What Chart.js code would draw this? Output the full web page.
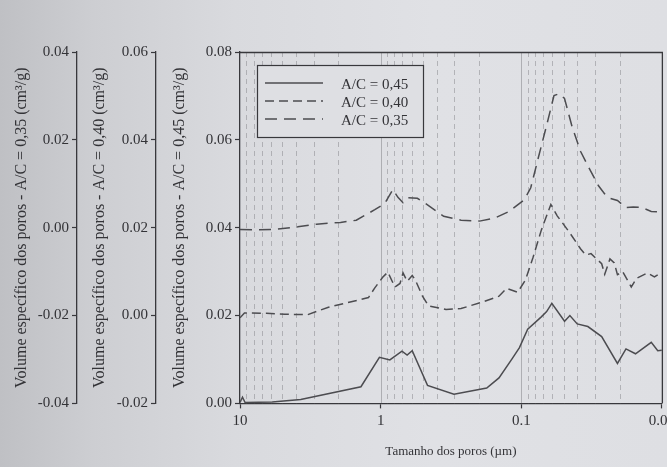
<!DOCTYPE html>
<html><head><meta charset="utf-8">
<script src="https://cdn.jsdelivr.net/npm/chart.js@4/dist/chart.umd.min.js"></script>
<style>
html,body{margin:0;padding:0;width:667px;height:467px;overflow:hidden;}
body{background:linear-gradient(90deg,#bfc0c4 0%,#cdced2 14%,#d9dade 35%,#e0e1e5 65%,#dedfe3 100%);}
#wrap{position:absolute;left:0;top:0;width:679px;height:467px;}
</style></head><body>
<div id="wrap"><canvas id="c"></canvas></div>
<script>
// ---- data ----
const seriesLabels = ['A/C = 0,45', 'A/C = 0,40', 'A/C = 0,35'];
const yTitle045 = 'Volume específico dos poros - A/C = 0,45 (cm³/g)';
const yTitle040 = 'Volume específico dos poros - A/C = 0,40 (cm³/g)';
const yTitle035 = 'Volume específico dos poros - A/C = 0,35 (cm³/g)';
const xTitle = 'Tamanho dos poros (µm)';

const xTickValues = [10, 1, 0.1, 0.01];
const xTickLabels = ['10', '1', '0.1', '0.01'];
const yTicks045 = [0.00, 0.02, 0.04, 0.06, 0.08];
const yTicks040 = [-0.02, 0.00, 0.02, 0.04, 0.06];
const yTicks035 = [-0.04, -0.02, 0.00, 0.02, 0.04];

// A/C = 0,45 (solid)
const size045 = [10, 9.6, 9.2, 5.9, 3.7, 1.38, 1.02, 0.86, 0.705, 0.648, 0.596, 0.464, 0.301, 0.176, 0.144, 0.116, 0.103, 0.090, 0.072, 0.066, 0.0606, 0.0492, 0.0451, 0.0400, 0.0336, 0.0268, 0.0207, 0.0180, 0.0154, 0.0119, 0.0107, 0.0100];
const vol045 = [0.0002, 0.0014, 0.0002, 0.0003, 0.0009, 0.0038, 0.0105, 0.0099, 0.0119, 0.0110, 0.0120, 0.0041, 0.0021, 0.0035, 0.0058, 0.0102, 0.0127, 0.0169, 0.0197, 0.0209, 0.0228, 0.0187, 0.0200, 0.0181, 0.0175, 0.0152, 0.0091, 0.0124, 0.0113, 0.0139, 0.0120, 0.0121];

// A/C = 0,40 (own axis)
const size040 = [10, 9.3, 6.5, 4.8, 3.3, 2.35, 1.73, 1.22, 1.10, 0.967, 0.889, 0.792, 0.728, 0.693, 0.648, 0.596, 0.567, 0.505, 0.456, 0.343, 0.268, 0.192, 0.144, 0.127, 0.106, 0.0933, 0.0827, 0.0719, 0.0616, 0.0555, 0.0451, 0.0379, 0.0348, 0.0319, 0.0268, 0.0255, 0.0234, 0.0218, 0.0207, 0.0190, 0.0165, 0.0151, 0.0127, 0.0113, 0.0100];
const vol040 = [-0.0005, 0.0006, 0.0005, 0.0003, 0.0002, 0.0019, 0.0029, 0.0041, 0.0063, 0.0087, 0.0099, 0.0065, 0.0073, 0.0097, 0.0078, 0.0091, 0.0081, 0.0045, 0.0022, 0.0014, 0.0016, 0.0030, 0.0044, 0.0062, 0.0053, 0.0081, 0.0131, 0.0195, 0.0253, 0.0227, 0.0188, 0.0152, 0.0138, 0.0141, 0.0118, 0.0094, 0.0129, 0.0120, 0.0093, 0.0100, 0.0065, 0.0085, 0.0097, 0.0088, 0.0099];

// A/C = 0,35 (own axis)
const size035 = [10, 7.96, 5.86, 3.88, 2.86, 1.93, 1.49, 1.10, 0.935, 0.819, 0.753, 0.693, 0.637, 0.548, 0.464, 0.356, 0.268, 0.198, 0.154, 0.122, 0.0949, 0.0856, 0.0758, 0.0660, 0.0585, 0.0536, 0.0492, 0.0436, 0.0379, 0.0330, 0.0283, 0.0255, 0.0234, 0.0207, 0.0180, 0.0160, 0.0139, 0.0119, 0.0103];
const vol035 = [-0.0004, -0.0005, -0.0004, 0.0002, 0.0008, 0.0012, 0.0017, 0.0041, 0.0055, 0.0087, 0.0069, 0.0057, 0.0068, 0.0067, 0.0052, 0.0026, 0.0017, 0.0015, 0.0022, 0.0037, 0.0064, 0.0091, 0.0158, 0.0233, 0.0301, 0.0305, 0.0294, 0.0231, 0.0174, 0.0136, 0.0096, 0.0077, 0.0067, 0.0062, 0.0046, 0.0047, 0.0046, 0.0037, 0.0036];

// log grid positions (1..9 of each decade)
const gridDecades = [0.01, 0.1, 1];
const gridValues = [];
gridDecades.forEach(d => { for (let m = 1; m <= 9; m++) gridValues.push(m * d); });
gridValues.push(10);

// ---- styles ----
const SERIF = "'Liberation Serif','DejaVu Serif',serif";
const TXT = '#333337';
const AX = '#38383c';
const LINE = '#4c4c50';

const pts = (xs, ys) => xs.map((x, i) => ({x: x, y: ys[i]}));
const fmt = v => (Math.abs(v) < 1e-9 ? 0 : v).toFixed(2);

function yAxis(opts) {
  return {
    type: 'linear', position: 'left', weight: opts.weight,
    min: opts.ticks[0], max: opts.ticks[opts.ticks.length - 1],
    afterBuildTicks: s => { s.ticks = opts.ticks.map(v => ({value: v})); },
    afterFit: s => { s.width = opts.width; },
    ticks: {callback: v => fmt(v), font: {family: SERIF, size: 15}, color: TXT, padding: 3},
    grid: {drawOnChartArea: false, drawTicks: true, tickLength: 5, color: AX, tickWidth: 1.2},
    border: {display: true, color: AX, width: 1.3},
    title: {display: true, text: opts.title, font: {family: SERIF, size: 16}, color: TXT, padding: {top: opts.tp, bottom: 0}}
  };
}

const gridPlugin = {
  id: 'paperGrid',
  beforeDatasetsDraw(chart) {
    const {ctx, chartArea: {top, bottom, left, right}, scales: {x}} = chart;
    ctx.save();
    gridValues.forEach(v => {
      const px = Math.round(x.getPixelForValue(v)) + 0.5;
      if (px < left + 2 || px > right - 2) return;
      const lg = Math.log10(v);
      const major = Math.abs(lg - Math.round(lg)) < 1e-6;
      ctx.beginPath();
      ctx.setLineDash(major ? [] : [5, 4]);
      ctx.strokeStyle = major ? 'rgba(100,100,105,0.5)' : 'rgba(110,110,115,0.5)';
      ctx.lineWidth = 0.8;
      ctx.moveTo(px, top); ctx.lineTo(px, bottom); ctx.stroke();
    });
    ctx.setLineDash([]);
    ctx.strokeStyle = AX; ctx.lineWidth = 1.3;
    ctx.beginPath(); ctx.moveTo(left, top + 0.5); ctx.lineTo(right + 0.5, top + 0.5); ctx.lineTo(right + 0.5, bottom); ctx.stroke();
    ctx.restore();
  }
};

const legendPlugin = {
  id: 'boxLegend',
  afterDatasetsDraw(chart) {
    const {ctx, chartArea} = chart;
    const bx = chartArea.left + 17, by = chartArea.top + 13, bw = 166, bh = 72;
    ctx.save();
    ctx.fillStyle = '#dedfe3';
    ctx.fillRect(bx, by, bw, bh);
    ctx.strokeStyle = AX; ctx.lineWidth = 1.2; ctx.setLineDash([]);
    ctx.strokeRect(bx + 0.5, by + 0.5, bw, bh);
    chart.data.datasets.forEach((ds, i) => {
      const y = by + 18 + i * 18;
      ctx.beginPath();
      ctx.setLineDash(ds.borderDash || []);
      ctx.strokeStyle = ds.borderColor; ctx.lineWidth = ds.borderWidth;
      ctx.moveTo(bx + 8, y); ctx.lineTo(bx + 66, y); ctx.stroke();
      ctx.setLineDash([]);
      ctx.fillStyle = TXT; ctx.font = '15px ' + SERIF;
      ctx.textAlign = 'left'; ctx.textBaseline = 'middle';
      ctx.fillText(ds.label, bx + 84, y + 2);
    });
    ctx.restore();
  }
};

new Chart(document.getElementById('c'), {
  type: 'line',
  data: {
    datasets: [
      {label: seriesLabels[0], data: pts(size045, vol045), yAxisID: 'y', borderColor: LINE, borderWidth: 1.5, pointRadius: 0, fill: false, tension: 0},
      {label: seriesLabels[1], data: pts(size040, vol040), yAxisID: 'y40', borderColor: LINE, borderWidth: 1.5, borderDash: [9, 5], pointRadius: 0, fill: false, tension: 0},
      {label: seriesLabels[2], data: pts(size035, vol035), yAxisID: 'y35', borderColor: LINE, borderWidth: 1.5, borderDash: [12, 7], pointRadius: 0, fill: false, tension: 0}
    ]
  },
  options: {
    responsive: true, maintainAspectRatio: false, animation: false,
    layout: {padding: {left: 0, right: 0, top: 52, bottom: 4}},
    plugins: {legend: {display: false}, tooltip: {enabled: false}},
    scales: {
      x: {
        type: 'logarithmic', reverse: true, min: 0.01, max: 10, position: 'bottom',
        afterBuildTicks: s => { s.ticks = xTickValues.map(v => ({value: v})); },
        ticks: {callback: (v, i) => xTickLabels[i], font: {family: SERIF, size: 15}, color: TXT, maxRotation: 0, autoSkip: false, padding: 4},
        grid: {drawOnChartArea: false, drawTicks: true, tickLength: 5, color: AX, tickWidth: 1.2},
        border: {display: true, color: AX, width: 1.3},
        title: {display: true, text: xTitle, font: {family: SERIF, size: 13}, color: TXT, padding: {top: 9, bottom: 4}}
      },
      y: yAxis({weight: 0, ticks: yTicks045, width: 84, title: yTitle045, tp: 14}),
      y40: yAxis({weight: 1, ticks: yTicks040, width: 79, title: yTitle040, tp: 13}),
      y35: yAxis({weight: 2, ticks: yTicks035, width: 77, title: yTitle035, tp: 12})
    }
  },
  plugins: [gridPlugin, legendPlugin]
});
</script>
</body></html>
